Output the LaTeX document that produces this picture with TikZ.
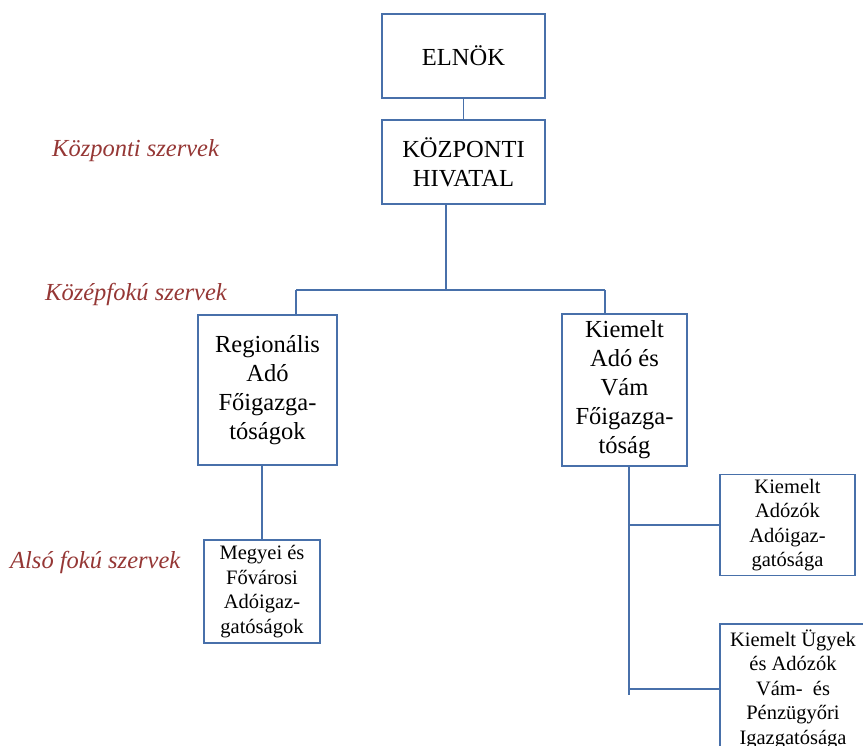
\documentclass[tikz,border=0pt]{standalone}
\usepackage{fontspec}
\setmainfont{Liberation Serif}
\usepackage{xcolor}
\usetikzlibrary{positioning, calc}

\definecolor{boxblue}{RGB}{72,112,170}
\definecolor{levelred}{RGB}{149,55,53}

\begin{document}
\begin{tikzpicture}[
  x=1pt, y=-1pt,
  big/.style    = {draw=boxblue, line width=1.8pt, align=center, fill=white,
                   inner sep=0pt, font=\fontsize{24.5}{29}\selectfont},
  small/.style  = {draw=boxblue, line width=1.8pt, align=center, fill=white,
                   inner sep=0pt, font=\fontsize{20.5}{24.5}\selectfont},
  level/.style  = {anchor=west, text=levelred, inner sep=0pt,
                   font=\fontsize{24.5}{28}\selectfont\itshape},
  link/.style   = {draw=boxblue, line width=1.6pt},
]
\useasboundingbox (0,0) rectangle (863,746);

%% Level labels
\node[level] (lvl1) at (52, 151) {Központi szervek};
\node[level] (lvl2) at (45, 294) {Középfokú szervek};
\node[level] (lvl3) at (10, 562) {Alsó fokú szervek};

%% Top
\node[big, minimum width=163, minimum height=84] (elnok) at (463.5, 56) {ELNÖK};
\node[big, minimum width=163, minimum height=84] (kozp)  at (463.5, 162)
     {KÖZPONTI\\HIVATAL};
\draw[link] (elnok.south) -- (kozp.north);

%% Middle level
\node[big, minimum width=139, minimum height=150] (regio) at (267.5, 390)
     {Regionális\\Adó\\Főigazga-\\tóságok};
\node[big, minimum width=125, minimum height=152] (kavf)  at (624.5, 390)
     {Kiemelt\\Adó és\\Vám\\Főigazga-\\tóság};

\coordinate (bus)  at (446, 290);
\coordinate (busL) at (296, 290);
\coordinate (busR) at (605, 290);
\draw[link] (bus |- kozp.south) -- (bus);
\draw[link] (busL) -- (busR);
\draw[link] (busL) -- (busL |- regio.north);
\draw[link] (busR) -- (busR |- kavf.north);

%% Lower level
\node[small, minimum width=116, minimum height=103] (megyei) at (262, 591.5)
     {Megyei és\\Fővárosi\\Adóigaz-\\gatóságok};
\draw[link] (megyei.north |- regio.south) -- (megyei.north);

\node[small, minimum width=135, minimum height=101] (adozok) at (787.5, 525)
     {Kiemelt\\Adózók\\Adóigaz-\\gatósága};
\node[small, minimum width=146, minimum height=130] (ugyek)  at (793, 689)
     {Kiemelt Ügyek\\és Adózók\\Vám-\ \ és\\Pénzügyőri\\Igazgatósága};

\coordinate (spine) at (629, 695);
\draw[link] (spine |- kavf.south) -- (spine);
\draw[link] (spine |- adozok.west) -- (adozok.west);
\draw[link] (spine |- ugyek.west) -- (ugyek.west);

\end{tikzpicture}
\end{document}
